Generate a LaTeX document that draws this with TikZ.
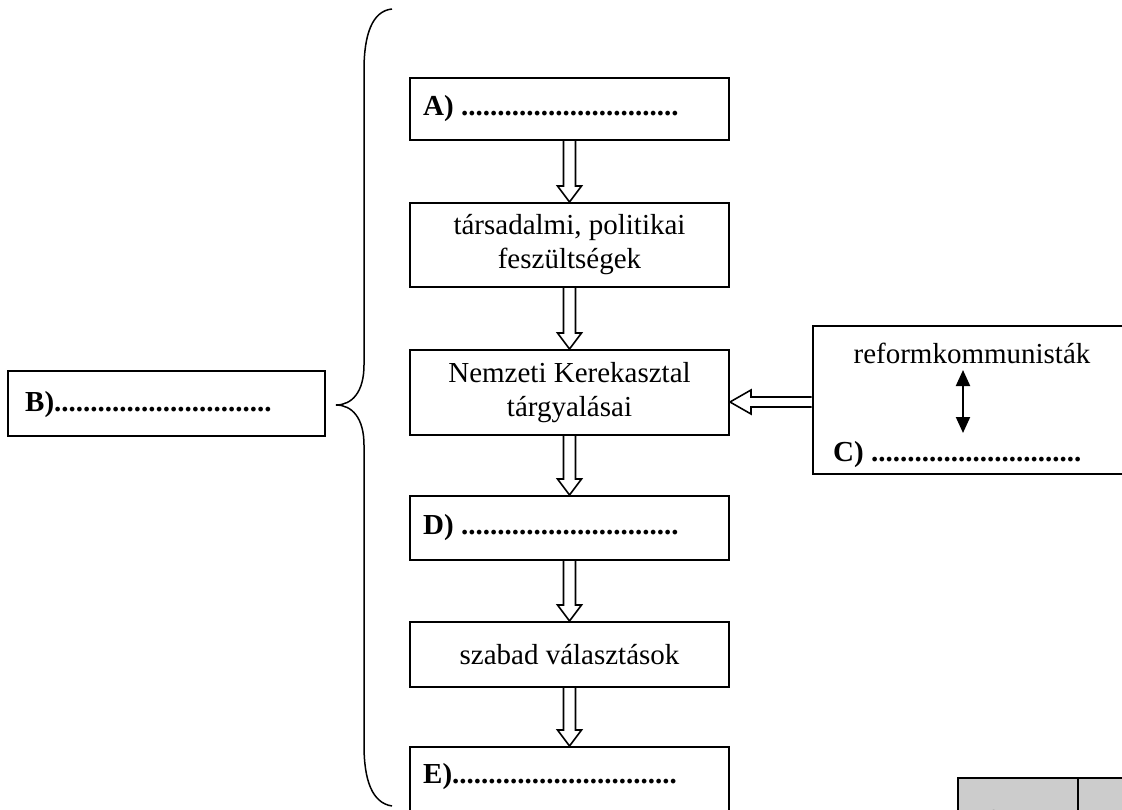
\documentclass[tikz,border=0pt]{standalone}
\usepackage{fontspec}
\setmainfont{Liberation Serif}
\usetikzlibrary{calc,arrows.meta}
\tikzset{
  fs/.style={font=\fontsize{29}{34}\selectfont},
  box/.style={draw, line width=2pt, minimum width=319pt, inner sep=0pt, align=center, fs},
  lbl/.style={font=\fontsize{29}{34}\selectfont\bfseries, inner sep=0pt, anchor=west},
  txt/.style={fs, align=center, inner sep=0pt},
  harrow/.style={draw, line width=1.6pt, line join=miter},
  dblarrow/.style={line width=2pt, {Triangle[width=14pt,length=16pt]}-{Triangle[width=14pt,length=16pt]}},
  brace/.style={draw, line width=1.5pt},
  cell/.style={draw, line width=2pt, fill=black!20, inner sep=0pt, anchor=north west},
}
\newcommand\hdown[2]{%
  \draw[harrow] ($(#1.south)+(-6,0)$) -- ($(#2.north)+(-6,-16)$) -- ($(#2.north)+(-12,-16)$)
    -- (#2.north) -- ($(#2.north)+(12,-16)$) -- ($(#2.north)+(6,-16)$) -- ($(#1.south)+(6,0)$);}
\newcommand\dotrow[1]{\foreach \i in {1,...,#1}{.}}
\begin{document}
\begin{tikzpicture}[x=1pt,y=-1pt]
\useasboundingbox (0,0) rectangle (1122,810);
\clip (0,0) rectangle (1122,810);

% main column
\node[box, minimum height=62pt] (A) at (569.5,109) {};
\node[lbl] (At) at (423,109) {A) \dotrow{30}};
\node[box, minimum height=84pt] (T) at (569.5,245) {társadalmi, politikai\\feszültségek};
\node[box, minimum height=85pt] (N) at (569.5,392.5) {Nemzeti Kerekasztal\\tárgyalásai};
\node[box, minimum height=64pt] (D) at (569.5,528) {};
\node[lbl] (Dt) at (423,528) {D) \dotrow{30}};
\node[box, minimum height=65pt] (S) at (569.5,654.5) {szabad választások};
\node[box, minimum height=80pt] (E) at (569.5,787) {};
\node[lbl] (Et) at (423,777) {E)\dotrow{31}};

% left box
\node[box, minimum width=317pt, minimum height=65pt] (B) at (166.5,403.5) {};
\node[lbl] (Bt) at (25,405) {B)\dotrow{30}};

% right box
\node[box, minimum height=148pt] (C) at (972,400) {};
\node[txt] (rk) at (972,353) {reformkommunisták};
\node[lbl] (Ct) at (833,455) {C) \dotrow{29}};
\coordinate (u1) at (963,370);
\coordinate (u2) at (963,433);
\draw[dblarrow] (u1) -- (u2);

% hollow arrows
\hdown{A}{T}
\hdown{T}{N}
\hdown{N}{D}
\hdown{D}{S}
\hdown{S}{E}
\coordinate (P) at ($(C.west)+(0,2)$);
\coordinate (Q) at (N.east |- P);
\draw[harrow] ($(P)+(0,-5)$) -- ($(Q)+(21,-5)$) -- ($(Q)+(21,-12)$) -- (Q)
  -- ($(Q)+(21,12)$) -- ($(Q)+(21,5)$) -- ($(P)+(0,5)$);

% brace
\coordinate (tip) at (336,405);
\draw[brace] (392,9) .. controls (372,11) and (364,35) .. (364,70) -- (364,365)
  .. controls (364,392) and (352,405) .. (tip)
  .. controls (352,405) and (364,418) .. (364,445) -- (364,745)
  .. controls (364,780) and (372,803) .. (392,806);

% score cells
\node[cell, minimum width=120pt, minimum height=70pt] (g1) at (957,777) {};
\node[cell, minimum width=80pt, minimum height=70pt] (g2) at (1077,777) {};
\node[txt, anchor=base west] (pt) at (983,829) {4 pont};
\end{tikzpicture}
\end{document}
